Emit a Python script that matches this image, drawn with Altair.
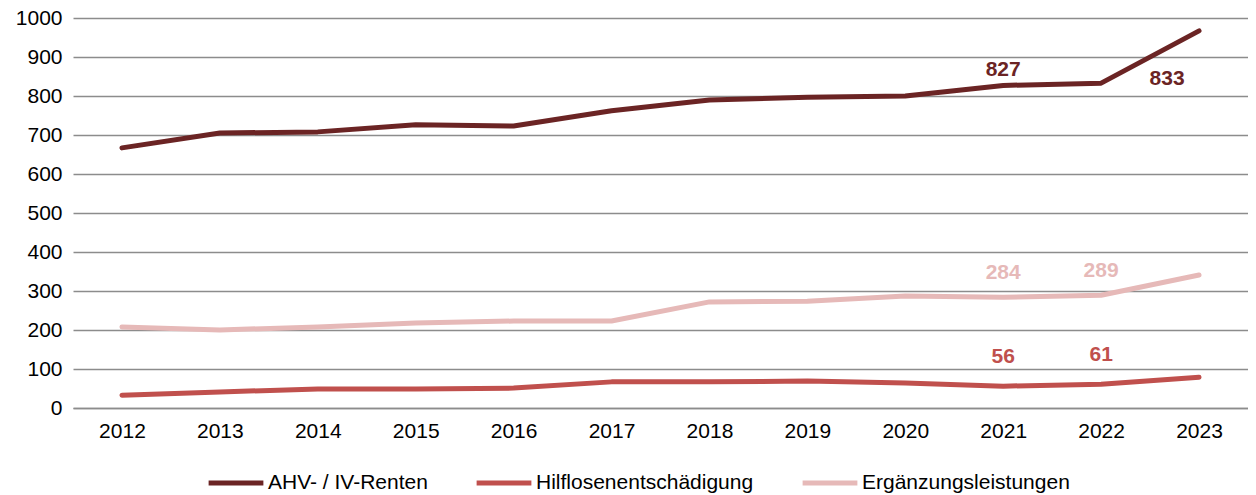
import altair as alt
import pandas as pd

years = [str(y) for y in range(2012, 2024)]
ahv = [667, 705, 708, 726, 723, 762, 790, 797, 800, 827, 833, 967]
hilf = [33, 41, 49, 49, 51, 67, 67, 69, 64, 56, 61, 79]
erg = [208, 200, 208, 218, 223, 223, 272, 274, 287, 284, 289, 341]

series = ["AHV- / IV-Renten", "Hilflosenentschädigung", "Ergänzungsleistungen"]
colors = ["#6B2424", "#C0504D", "#E6B9B8"]

rows = []
for name, vals in zip(series, [ahv, hilf, erg]):
    for y, v in zip(years, vals):
        rows.append({"Jahr": y, "Wert": v, "Serie": name})
df = pd.DataFrame(rows)

lab_above_ahv = [("2021", series[0])]
lab_right_ahv = [("2022", series[0])]
lab_erg = [("2021", series[2]), ("2022", series[2])]
lab_hilf = [("2021", series[1]), ("2022", series[1])]


def sel(pairs):
    keys = set(pairs)
    return df[[(r.Jahr, r.Serie) in keys for r in df.itertuples()]]


font = "Liberation Sans"
FS = 21
xenc = alt.X("Jahr:N", scale=alt.Scale(paddingOuter=0.5, paddingInner=0), title=None,
             axis=alt.Axis(labelAngle=0, ticks=False, grid=False, domain=True,
                           domainColor="#8C8C8C", domainWidth=1.5, labelPadding=12,
                           labelFontSize=FS, labelColor="#000000", labelFont=font))
yenc = alt.Y("Wert:Q", scale=alt.Scale(domain=[0, 1000], nice=False), title=None,
             axis=alt.Axis(values=list(range(0, 1001, 100)), format="d", ticks=False, domain=False,
                           gridColor="#8C8C8C", gridWidth=1.5, labelPadding=11,
                           labelFontSize=FS, labelColor="#000000", labelFont=font))
cscale = alt.Scale(domain=series, range=colors)
cenc = alt.Color("Serie:N", scale=cscale,
                 legend=alt.Legend(title=None, orient="none", direction="horizontal",
                                   legendX=133, legendY=435, symbolType="stroke",
                                   symbolStrokeWidth=5, symbolSize=3000,
                                   labelFontSize=FS, labelFont=font, labelColor="#000000",
                                   columnPadding=38, labelOffset=2, symbolLimit=0,
                                   labelLimit=400))

lines = alt.Chart(df).mark_line(strokeWidth=5, strokeCap="round", strokeJoin="round").encode(
    x=xenc, y=yenc, color=cenc
)


def labels(data, dx, dy):
    return alt.Chart(data).mark_text(fontSize=FS, fontWeight="bold", font=font, dx=dx, dy=dy).encode(
        x=xenc, y=yenc, text=alt.Text("Wert:Q"), color=cenc
    )


chart = alt.layer(
    lines,
    labels(sel(lab_above_ahv), 0, -15),
    labels(sel(lab_right_ahv), 66, -4),
    labels(sel(lab_erg), 0, -24),
    labels(sel(lab_hilf), 0, -29),
).properties(
    width=1175, height=390,
    autosize=alt.AutoSizeParams(type="none"),
    padding={"left": 65, "top": 10, "right": 0, "bottom": 85},
).configure_view(stroke=None).configure_axisX(
    labelFontSize=FS, labelFont=font, labelColor="#000000"
).configure_axisY(
    labelFontSize=FS, labelFont=font, labelColor="#000000"
)

chart.save("out.html", embed_options={"renderer": "svg", "actions": False})
